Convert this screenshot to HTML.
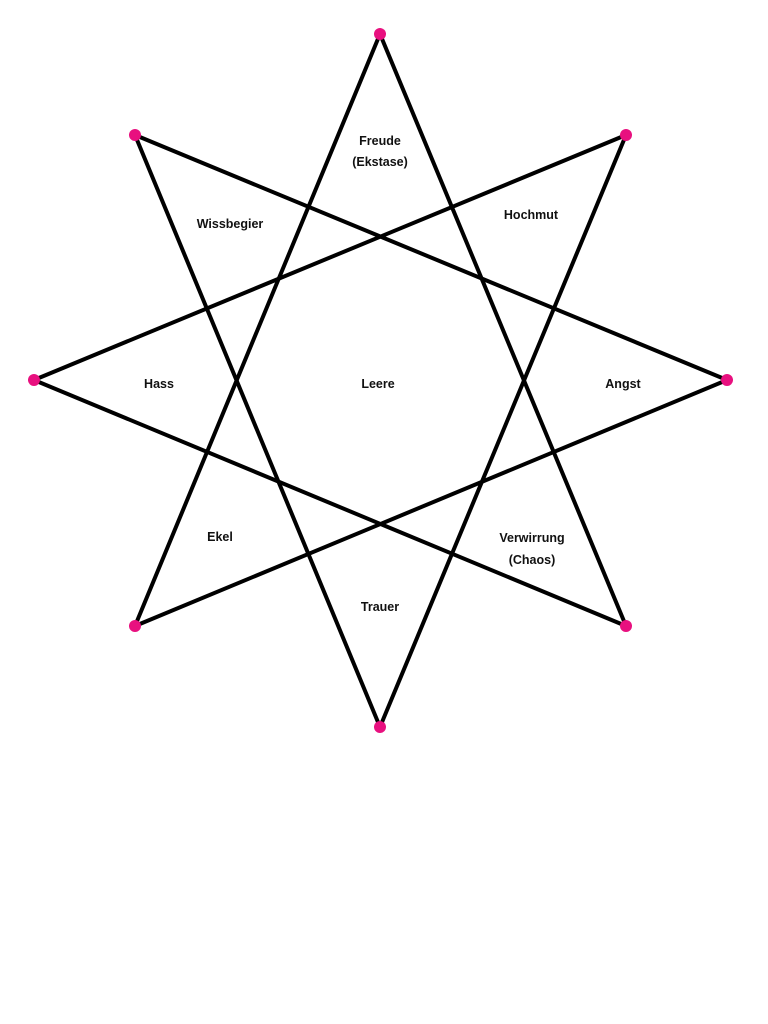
<!DOCTYPE html>
<html><head><meta charset="utf-8"><style>
html,body{margin:0;padding:0;background:#fff;width:768px;height:1024px;overflow:hidden}
text{font-family:"Liberation Sans",Arial,sans-serif;font-weight:bold;font-size:12.5px;fill:#111}
</style></head><body>
<svg width="768" height="1024" viewBox="0 0 768 1024" xmlns="http://www.w3.org/2000/svg">
<g stroke="#000" stroke-width="4" stroke-linecap="round" fill="none">
<line x1="380" y1="34" x2="626" y2="626"/>
<line x1="380" y1="34" x2="135" y2="626"/>
<line x1="626" y1="135" x2="34" y2="380"/>
<line x1="626" y1="135" x2="380" y2="727"/>
<line x1="727" y1="380" x2="135" y2="135"/>
<line x1="727" y1="380" x2="135" y2="626"/>
<line x1="626" y1="626" x2="34" y2="380"/>
<line x1="380" y1="727" x2="135" y2="135"/>
</g>
<g fill="#e8107f">
<circle cx="380" cy="34" r="6"/><circle cx="626" cy="135" r="6"/>
<circle cx="727" cy="380" r="6"/><circle cx="626" cy="626" r="6"/>
<circle cx="380" cy="727" r="6"/><circle cx="135" cy="626" r="6"/>
<circle cx="34" cy="380" r="6"/><circle cx="135" cy="135" r="6"/>
</g>
<g text-anchor="middle">
<text x="380" y="145">Freude</text>
<text x="380" y="166">(Ekstase)</text>
<text x="230" y="228">Wissbegier</text>
<text x="531" y="219">Hochmut</text>
<text x="159" y="388">Hass</text>
<text x="378" y="388">Leere</text>
<text x="623" y="388">Angst</text>
<text x="220" y="541">Ekel</text>
<text x="532" y="542">Verwirrung</text>
<text x="532" y="564">(Chaos)</text>
<text x="380" y="611">Trauer</text>
</g>
</svg>
</body></html>
